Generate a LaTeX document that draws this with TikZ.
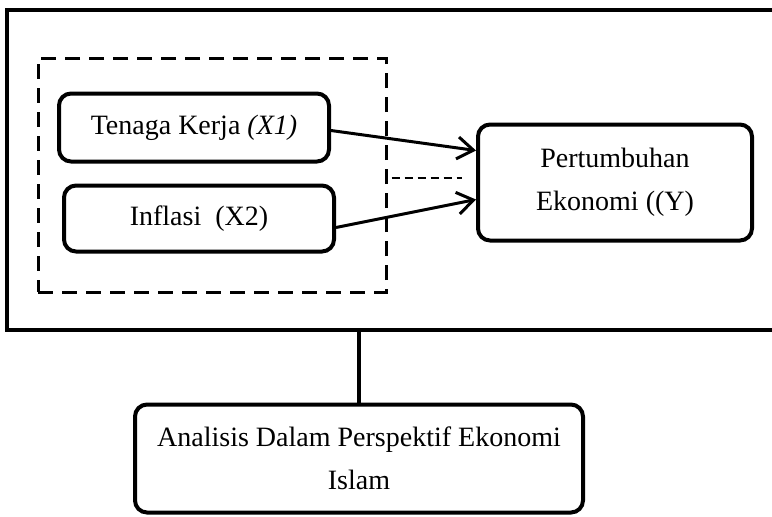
\documentclass[tikz,border=0pt]{standalone}
\usepackage{fontspec}
\setmainfont{Liberation Serif}
\usetikzlibrary{arrows.meta}

\begin{document}
\begin{tikzpicture}[x=0.5pt,y=-0.5pt,
    varbox/.style={draw,line width=2pt,rounded corners=6pt,align=center,
      inner sep=0pt,font=\fontsize{14pt}{21.5pt}\selectfont},
    link/.style={line width=1.5pt,-{Straight Barb[length=8pt,width=11pt]}}]
  \useasboundingbox (0,0) rectangle (772,516);

  % Outer frame (open on the right)
  \draw[line width=2pt] (772,10) -- (7,10) -- (7,330) -- (772,330);
  \coordinate (framebot) at (359,330);

  % Dashed group of the independent variables
  \node[draw,line width=1.5pt,dash pattern=on 7.5pt off 4.5pt,
    minimum width=174pt,minimum height=117pt] (grp) at (212,175) {};

  % Variables
  \node[varbox,minimum width=135pt,minimum height=34pt] (x1) at (194,127.5)
    {Tenaga Kerja \textit{(X1)}};
  \node[varbox,minimum width=135pt,minimum height=33pt] (x2) at (199,218.5)
    {Inflasi\ \ (X2)};
  \node[varbox,minimum width=137pt,minimum height=58pt] (y) at (615,182.5)
    {Pertumbuhan\\Ekonomi ((Y)};
  \node[varbox,minimum width=224pt,minimum height=54pt] (islam) at (359,458.5)
    {Analisis Dalam Perspektif Ekonomi\\Islam};

  % Relations
  \draw[link] ([yshift=-1.5pt]x1.east) -- ([yshift=16pt]y.west);
  \draw[link] ([yshift=-4.5pt]x2.east) -- ([yshift=-8.5pt]y.west);
  \coordinate (gap) at (462,178);
  \draw[line width=1pt,dash pattern=on 4pt off 2.5pt] ([xshift=2pt]grp.east |- gap) -- (gap);
  \draw[line width=2pt] (framebot) -- (framebot |- islam.north);
\end{tikzpicture}
\end{document}
